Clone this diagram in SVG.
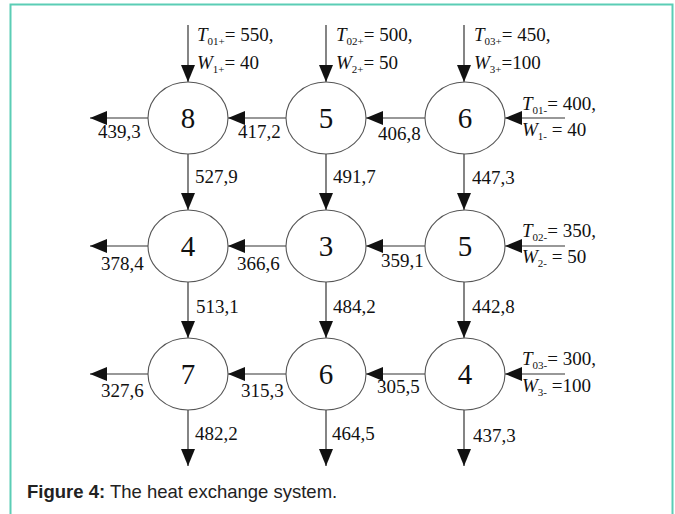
<svg xmlns="http://www.w3.org/2000/svg" width="675" height="514" viewBox="0 0 675 514">
<style>
.node ellipse{fill:#fff;stroke:#555;stroke-width:1.1}
.node text{font-family:"Liberation Serif",serif;font-size:29px;fill:#111;text-anchor:middle}
.lbl{font-family:"Liberation Serif",serif;font-size:19px;fill:#111}
.it{font-style:italic}
.sub{font-size:11px}
#connectors line{stroke:#333;stroke-width:1.2;marker-end:url(#ah)}
.cap{font-family:"Liberation Sans",Arial,sans-serif;font-size:18.5px;fill:#222}
</style>
<defs>
<marker id="ah" markerUnits="userSpaceOnUse" markerWidth="18" markerHeight="14" refX="17" refY="7" orient="auto">
<path d="M0,0 L17,7 L0,14 Z" fill="#111"/>
</marker>
</defs>
<rect x="0" y="0" width="675" height="514" fill="#fff"/>
<rect x="10.5" y="4.5" width="662" height="530" fill="none" stroke="#5bcdb5" stroke-width="2"/>

<g id="connectors">
<line x1="188" y1="25" x2="188" y2="82"/>
<line x1="326" y1="25" x2="326" y2="82"/>
<line x1="464" y1="25" x2="464" y2="82"/>
<line x1="565" y1="118" x2="505" y2="118"/>
<line x1="565" y1="246" x2="505" y2="246"/>
<line x1="565" y1="374" x2="505" y2="374"/>
<line x1="425" y1="118" x2="366" y2="118"/>
<line x1="286" y1="118" x2="228" y2="118"/>
<line x1="148" y1="118" x2="90" y2="118"/>
<line x1="425" y1="246" x2="366" y2="246"/>
<line x1="286" y1="246" x2="228" y2="246"/>
<line x1="148" y1="246" x2="90" y2="246"/>
<line x1="425" y1="374" x2="366" y2="374"/>
<line x1="286" y1="374" x2="228" y2="374"/>
<line x1="148" y1="374" x2="90" y2="374"/>
<line x1="188" y1="154" x2="188" y2="210"/>
<line x1="326" y1="154" x2="326" y2="210"/>
<line x1="464" y1="154" x2="464" y2="210"/>
<line x1="188" y1="282" x2="188" y2="338"/>
<line x1="326" y1="282" x2="326" y2="338"/>
<line x1="464" y1="282" x2="464" y2="338"/>
<line x1="188" y1="410" x2="188" y2="466"/>
<line x1="326" y1="410" x2="326" y2="466"/>
<line x1="464" y1="410" x2="464" y2="466"/>
</g>

<g id="n11" class="node"><ellipse cx="188" cy="118" rx="40" ry="36"/><text x="188" y="128">8</text></g>
<g id="n12" class="node"><ellipse cx="326" cy="118" rx="40" ry="36"/><text x="326" y="128">5</text></g>
<g id="n13" class="node"><ellipse cx="465" cy="118" rx="40" ry="36"/><text x="465" y="128">6</text></g>
<g id="n21" class="node"><ellipse cx="188" cy="246" rx="40" ry="36"/><text x="188" y="256">4</text></g>
<g id="n22" class="node"><ellipse cx="326" cy="246" rx="40" ry="36"/><text x="326" y="256">3</text></g>
<g id="n23" class="node"><ellipse cx="465" cy="246" rx="40" ry="36"/><text x="465" y="256">5</text></g>
<g id="n31" class="node"><ellipse cx="188" cy="374" rx="40" ry="36"/><text x="188" y="384">7</text></g>
<g id="n32" class="node"><ellipse cx="326" cy="374" rx="40" ry="36"/><text x="326" y="384">6</text></g>
<g id="n33" class="node"><ellipse cx="465" cy="374" rx="40" ry="36"/><text x="465" y="384">4</text></g>

<g id="labels" class="lbl">
<text x="197" y="41"><tspan class="it">T</tspan><tspan class="sub" dy="4">01+</tspan><tspan dy="-4">= 550,</tspan></text>
<text x="197" y="69"><tspan class="it">W</tspan><tspan class="sub" dy="4">1+</tspan><tspan dy="-4">= 40</tspan></text>
<text x="336" y="41"><tspan class="it">T</tspan><tspan class="sub" dy="4">02+</tspan><tspan dy="-4">= 500,</tspan></text>
<text x="336" y="69"><tspan class="it">W</tspan><tspan class="sub" dy="4">2+</tspan><tspan dy="-4">= 50</tspan></text>
<text x="474" y="41"><tspan class="it">T</tspan><tspan class="sub" dy="4">03+</tspan><tspan dy="-4">= 450,</tspan></text>
<text x="474" y="69"><tspan class="it">W</tspan><tspan class="sub" dy="4">3+</tspan><tspan dy="-4">=100</tspan></text>
<text x="522" y="110"><tspan class="it">T</tspan><tspan class="sub" dy="4">01-</tspan><tspan dy="-4">= 400,</tspan></text>
<text x="522" y="136"><tspan class="it">W</tspan><tspan class="sub" dy="4">1-</tspan><tspan dy="-4"> = 40</tspan></text>
<text x="522" y="237"><tspan class="it">T</tspan><tspan class="sub" dy="4">02-</tspan><tspan dy="-4">= 350,</tspan></text>
<text x="522" y="263"><tspan class="it">W</tspan><tspan class="sub" dy="4">2-</tspan><tspan dy="-4"> = 50</tspan></text>
<text x="522" y="365"><tspan class="it">T</tspan><tspan class="sub" dy="4">03-</tspan><tspan dy="-4">= 300,</tspan></text>
<text x="522" y="392"><tspan class="it">W</tspan><tspan class="sub" dy="4">3-</tspan><tspan dy="-4"> =100</tspan></text>

<text x="98" y="138">439,3</text>
<text x="238" y="138">417,2</text>
<text x="378" y="140">406,8</text>
<text x="195" y="183">527,9</text>
<text x="333" y="183">491,7</text>
<text x="472" y="184">447,3</text>
<text x="101" y="270">378,4</text>
<text x="237" y="270">366,6</text>
<text x="381" y="267">359,1</text>
<text x="196" y="313">513,1</text>
<text x="333" y="313">484,2</text>
<text x="472" y="313">442,8</text>
<text x="101" y="397">327,6</text>
<text x="241" y="397">315,3</text>
<text x="377" y="393">305,5</text>
<text x="195" y="440">482,2</text>
<text x="332" y="440">464,5</text>
<text x="473" y="442">437,3</text>
</g>

<text class="cap" x="27" y="498"><tspan font-weight="bold">Figure 4:</tspan> The heat exchange system.</text>
</svg>
